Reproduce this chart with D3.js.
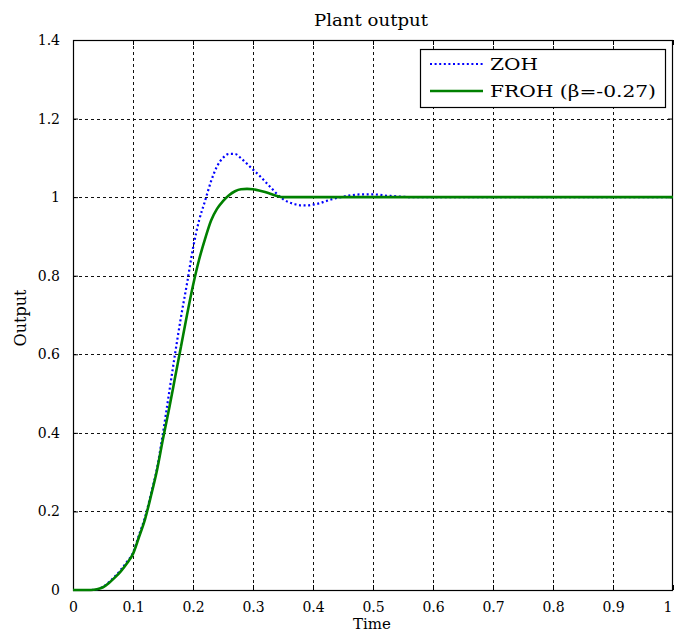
<!DOCTYPE html>
<html>
<head>
<meta charset="utf-8">
<script src="https://cdn.jsdelivr.net/npm/d3@7"></script>
<style>
  html, body { margin: 0; padding: 0; background: #fff; }
  svg { display: block; }
  text { font-family: "DejaVu Serif", "Liberation Serif", serif; fill: #000; }
</style>
</head>
<body>
<svg id="chart" width="674" height="634"></svg>
<script>
// Sample times (s) for both responses
const time = [0.00,0.01,0.02,0.03,0.04,0.05,0.06,0.07,0.08,0.09,
              0.10,0.11,0.12,0.13,0.14,0.15,0.16,0.17,0.18,0.19,
              0.20,0.21,0.22,0.23,0.24,0.25,0.26,0.27,0.28,0.29,
              0.30,0.31,0.32,0.33,0.34,0.35,0.36,0.37,0.38,0.39,
              0.40,0.41,0.42,0.43,0.44,0.45,0.46,0.47,0.48,0.49,
              0.50,0.51,0.52,0.53,0.54,0.55,0.56,0.60,0.70,0.80,0.90,1.00];

// Zero-order hold response
const zohOutput = [0,0,0,0,0.002,0.008,0.02,0.035,0.052,0.072,
                   0.095,0.14,0.185,0.245,0.31,0.40,0.50,0.60,0.695,0.78,
                   0.87,0.94,0.99,1.04,1.078,1.10,1.11,1.11,1.099,1.085,
                   1.07,1.056,1.04,1.024,1.008,0.995,0.987,0.982,0.979,0.979,
                   0.981,0.984,0.989,0.994,0.998,1.001,1.004,1.006,1.007,1.007,
                   1.007,1.006,1.004,1.003,1.002,1.001,1.0,1.0,1.0,1.0,1.0,1.0];

// Fractional-order hold response (beta = -0.27)
const frohOutput = [0,0,0,0,0.002,0.007,0.018,0.032,0.048,0.068,
                    0.092,0.135,0.18,0.24,0.305,0.385,0.46,0.54,0.62,0.70,
                    0.775,0.84,0.893,0.94,0.97,0.99,1.005,1.015,1.02,1.021,
                    1.02,1.017,1.013,1.008,1.003,1.0,1.0,1.0,1.0,1.0,
                    1.0,1.0,1.0,1.0,1.0,1.0,1.0,1.0,1.0,1.0,
                    1.0,1.0,1.0,1.0,1.0,1.0,1.0,1.0,1.0,1.0,1.0,1.0];

const xTicks = [0,0.1,0.2,0.3,0.4,0.5,0.6,0.7,0.8,0.9,1];
const xTickLabels = ["0","0.1","0.2","0.3","0.4","0.5","0.6","0.7","0.8","0.9","1"];
const yTicks = [0,0.2,0.4,0.6,0.8,1,1.2,1.4];
const yTickLabels = ["0","0.2","0.4","0.6","0.8","1","1.2","1.4"];

const seriesNames = ["ZOH", "FROH (\u03b2=-0.27)"];

const svg = d3.select("#chart");
const margin = {left: 73, right: 1, top: 40, bottom: 44};
const W = 674, H = 634;
const x = d3.scaleLinear().domain([0, 1]).range([margin.left, W - margin.right]);
const y = d3.scaleLinear().domain([0, 1.4]).range([H - margin.bottom, margin.top]);

const x0 = x(0), x1 = x(1), y0 = y(0), y1 = y(1.4);

// grid
const grid = svg.append("g").attr("stroke", "#111").attr("stroke-width", 1)
  .attr("stroke-dasharray", "3,3").attr("shape-rendering", "crispEdges");
grid.selectAll("line.v").data(xTicks.slice(1, -1)).join("line")
  .attr("x1", d => Math.round(x(d)) + 0.5).attr("x2", d => Math.round(x(d)) + 0.5)
  .attr("y1", y1).attr("y2", y0);
grid.selectAll("line.h").data(yTicks.slice(1)).join("line")
  .attr("y1", d => Math.round(y(d)) + 0.5).attr("y2", d => Math.round(y(d)) + 0.5)
  .attr("x1", x0).attr("x2", x1);

// axes with inward ticks
const axB = svg.append("g").attr("transform", `translate(0,${y0})`)
  .call(d3.axisBottom(x).tickValues(xTicks).tickFormat((d, i) => xTickLabels[i])
        .tickSizeInner(-5).tickSizeOuter(0).tickPadding(12));
const axT = svg.append("g").attr("transform", `translate(0,${y1})`)
  .call(d3.axisTop(x).tickValues(xTicks).tickFormat("").tickSizeInner(-5).tickSizeOuter(0));
const axL = svg.append("g").attr("transform", `translate(${x0},0)`)
  .call(d3.axisLeft(y).tickValues(yTicks).tickFormat((d, i) => yTickLabels[i])
        .tickSizeInner(-5).tickSizeOuter(0).tickPadding(13));
const axR = svg.append("g").attr("transform", `translate(${x1},0)`)
  .call(d3.axisRight(y).tickValues(yTicks).tickFormat("").tickSizeInner(-5).tickSizeOuter(0));
[axB, axT, axL, axR].forEach(a => {
  a.select(".domain").remove();
  a.selectAll("line").attr("stroke", "#000");
  a.selectAll("text").attr("font-family", "DejaVu Serif").attr("font-size", 14).attr("fill", "#000");
});
// keep the last x tick label inside the canvas
axB.selectAll(".tick").filter(d => d === 1).select("text")
  .attr("text-anchor", "end").attr("dx", "-1");

// box
svg.append("rect").attr("x", x0 + 0.5).attr("y", y1 + 0.5)
  .attr("width", x1 - x0 - 1).attr("height", y0 - y1)
  .attr("fill", "none").attr("stroke", "#000").attr("stroke-width", 1.2);

// data lines
svg.append("clipPath").attr("id", "plot").append("rect")
  .attr("x", x0).attr("y", y1).attr("width", x1 - x0).attr("height", y0 - y1 + 2);

const line = vals => d3.line()
  .x((d, i) => x(time[i])).y(d => y(d))
  .curve(d3.curveMonotoneX)(vals);

const plot = svg.append("g").attr("clip-path", "url(#plot)");
plot.append("path").attr("d", line(zohOutput))
  .attr("fill", "none").attr("stroke", "#0000ff").attr("stroke-width", 2.2)
  .attr("stroke-dasharray", "2,2.6");
plot.append("path").attr("d", line(frohOutput))
  .attr("fill", "none").attr("stroke", "#008000").attr("stroke-width", 2.6);

// title and axis labels
svg.append("text").attr("x", 371).attr("y", 26).attr("text-anchor", "middle")
  .attr("font-size", 16).attr("textLength", 114).attr("lengthAdjust", "spacingAndGlyphs")
  .text("Plant output");
svg.append("text").attr("x", 372).attr("y", 629).attr("text-anchor", "middle")
  .attr("font-size", 15).text("Time");
svg.append("text").attr("transform", "translate(26,318) rotate(-90)")
  .attr("text-anchor", "middle").attr("font-size", 16).text("Output");

// legend
const lg = svg.append("g");
lg.append("rect").attr("x", 420.5).attr("y", 49.5).attr("width", 245).attr("height", 58)
  .attr("fill", "#fff").attr("stroke", "#000").attr("stroke-width", 1.2);
const legendRows = [
  {name: seriesNames[0], color: "#0000ff", dash: "2,2.6", w: 2.2, y: 64, len: 48},
  {name: seriesNames[1], color: "#008000", dash: null, w: 2.6, y: 91, len: 166}
];
legendRows.forEach(r => {
  lg.append("line").attr("x1", 430).attr("x2", 483).attr("y1", r.y).attr("y2", r.y)
    .attr("stroke", r.color).attr("stroke-width", r.w)
    .attr("stroke-dasharray", r.dash);
  lg.append("text").attr("x", 490).attr("y", r.y + 6).attr("font-size", 16)
    .attr("textLength", r.len).attr("lengthAdjust", "spacingAndGlyphs").text(r.name);
});
</script>
</body>
</html>
